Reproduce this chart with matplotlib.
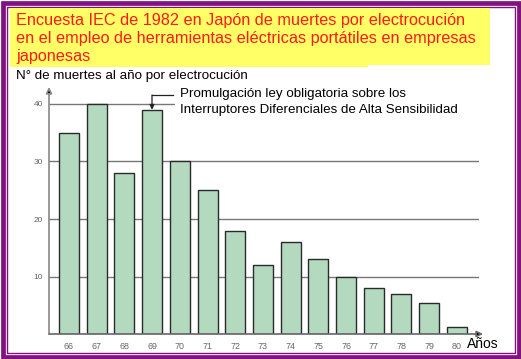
import matplotlib
matplotlib.use("Agg")
import matplotlib.pyplot as plt
from matplotlib.patches import Rectangle

years = ["66", "67", "68", "69", "70", "71", "72", "73", "74", "75", "76", "77", "78", "79", "80"]
deaths = [35, 40, 28, 39, 30, 25, 18, 12, 16, 13, 10, 8, 7, 5.4, 1.2]
yticks = [10, 20, 30, 40]
title_lines = ["Encuesta IEC de 1982 en Japón de muertes por electrocución",
               "en el empleo de herramientas eléctricas portátiles en empresas",
               "japonesas"]
ylabel = "N° de muertes al año por electrocución"
note = ["Promulgación ley obligatoria sobre los",
        "Interruptores Diferenciales de Alta Sensibilidad"]
xlabel = "Años"
law_index = 3

plt.rcParams['font.family'] = ['Liberation Sans', 'DejaVu Sans']

W, H = 521, 359
fig = plt.figure(figsize=(W / 100, H / 100), dpi=100)
fig.patch.set_facecolor("white")

# chart axes
x0, x1, ytop, ybot = 49, 479, 87, 334
step = 27.7
ax = fig.add_axes([x0 / W, (H - ybot) / H, (x1 - x0) / W, (ybot - ytop) / H])
ax.set_facecolor("none")
ax.set_xlim(-20 / step, (x1 - 69) / step)
ax.set_ylim(0, (ybot - ytop) / 5.75)
for s in ax.spines.values():
    s.set_visible(False)
for v in yticks:
    ax.axhline(v, color="#777777", lw=1.0, zorder=1)
xs = list(range(len(years)))
ax.bar(xs, deaths, width=20 / step, color="#b3d9bf", edgecolor="#2a2a2a", lw=1.0, zorder=2)
ax.set_xticks(xs)
ax.set_xticklabels(years, fontsize=6.4, color="#666666")
ax.set_yticks(yticks)
ax.set_yticklabels([str(v) for v in yticks], fontsize=6.0, color="#666666")
ax.tick_params(axis="both", length=0)
ax.tick_params(axis="x", pad=5.5)
ax.tick_params(axis="y", pad=4.5)

# axis arrows
ax.annotate("", xy=(0, 1.0), xytext=(0, 0), xycoords="axes fraction",
            arrowprops=dict(arrowstyle="-|>", color="#888888", lw=1.2,
                            mutation_scale=9, shrinkA=0, shrinkB=0, fc="black", ec="#888888"),
            annotation_clip=False)
ax.annotate("", xy=((483 - x0) / (x1 - x0), 0), xytext=(0, 0), xycoords="axes fraction",
            arrowprops=dict(arrowstyle="-|>", color="#666666", lw=1.2,
                            mutation_scale=9, shrinkA=0, shrinkB=0, fc="black", ec="#666666"),
            annotation_clip=False)

# overlay axes in pixel coords (on top)
ov = fig.add_axes([0, 0, 1, 1])
ov.set_zorder(5)
ov.patch.set_visible(False)
ov.set_xlim(0, W)
ov.set_ylim(H, 0)
ov.axis("off")
purple = "#82127f"
ov.add_patch(Rectangle((2.5, 2.5), W - 5, H - 5, fill=False, ec=purple, lw=3.4))
ov.add_patch(Rectangle((6.5, 6.5), W - 13, H - 13, fill=False, ec=purple, lw=1.0))
ov.add_patch(Rectangle((10, 8), 358, 59, fc="#ffff66", ec="none"))
ov.add_patch(Rectangle((368, 8), 122, 57, fc="#ffff66", ec="none"))
for i, t in enumerate(title_lines):
    ov.text(16, 20 + i * 18.5, t, color="#ff1a1a", fontsize=11.7, va="center", ha="left")
ov.text(16, 76, ylabel, color="black", fontsize=9.6, va="center", ha="left")
ov.add_patch(Rectangle((175, 85), 306, 33, fc="white", ec="none"))
ov.text(180, 94, note[0], color="black", fontsize=9.6, va="center", ha="left")
ov.text(180, 110, note[1], color="black", fontsize=9.6, va="center", ha="left")
ov.text(467, 344, xlabel, color="black", fontsize=10, va="center", ha="left")

# law annotation
ov.plot([173, 152], [95, 95], color="#222222", lw=0.9)
bar_top_px = ybot - deaths[law_index] * 5.75
ov.annotate("", xy=(152, bar_top_px), xytext=(152, 95),
            arrowprops=dict(arrowstyle="-|>", color="#222222", lw=0.9,
                            mutation_scale=7, shrinkA=0, shrinkB=0))

fig.savefig("out.png", dpi=100)
